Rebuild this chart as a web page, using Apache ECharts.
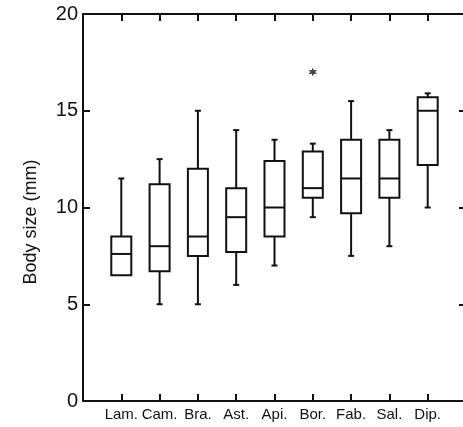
<!DOCTYPE html>
<html>
<head>
<meta charset="utf-8">
<script src="https://cdn.jsdelivr.net/npm/echarts@6/dist/echarts.min.js"></script>
<style>
html,body{margin:0;padding:0;background:#fff;overflow:hidden;}
#chart{width:469px;height:427px;}
</style>
</head>
<body>
<div id="chart"></div>
<script>
// Taxa (with blank padding slots at both ends of the axis)
const categories = ['', 'Lam.', 'Cam.', 'Bra.', 'Ast.', 'Api.', 'Bor.', 'Fab.', 'Sal.', 'Dip.', ''];
const boxCategories = ['Lam.', 'Cam.', 'Bra.', 'Ast.', 'Api.', 'Bor.', 'Fab.', 'Sal.', 'Dip.'];
const mins    = [6.5, 5.0, 5.0, 6.0, 7.0, 9.5, 7.5, 8.0, 10.0];
const q1s     = [6.5, 6.7, 7.5, 7.7, 8.5, 10.5, 9.7, 10.5, 12.2];
const medians = [7.6, 8.0, 8.5, 9.5, 10.0, 11.0, 11.5, 11.5, 15.0];
const q3s     = [8.5, 11.2, 12.0, 11.0, 12.4, 12.9, 13.5, 13.5, 15.7];
const maxs    = [11.5, 12.5, 15.0, 14.0, 13.5, 13.3, 15.5, 14.0, 15.9];
const outlierCats = ['Bor.'];
const outlierVals = [17.0];
const yTicks = [0, 5, 10, 15, 20];

const boxData = boxCategories.map((c, i) => [categories.indexOf(c), mins[i], q1s[i], medians[i], q3s[i], maxs[i]]);
const outData = outlierCats.map((c, i) => [categories.indexOf(c), outlierVals[i]]);

const ink = '#111';
const chart = echarts.init(document.getElementById('chart'));

function renderBox(params, api) {
  const x = api.value(0);
  const pMin = api.coord([x, api.value(1)]);
  const pQ1 = api.coord([x, api.value(2)]);
  const pMed = api.coord([x, api.value(3)]);
  const pQ3 = api.coord([x, api.value(4)]);
  const pMax = api.coord([x, api.value(5)]);
  const cx = pMed[0];
  const hw = 10, cap = 3;
  const st = {stroke: ink, lineWidth: 2, fill: null};
  const children = [
    {type: 'rect', shape: {x: cx - hw, y: pQ3[1], width: hw * 2, height: pQ1[1] - pQ3[1]}, style: {stroke: ink, lineWidth: 2, fill: '#fff'}},
    {type: 'line', shape: {x1: cx - hw, y1: pMed[1], x2: cx + hw, y2: pMed[1]}, style: st}
  ];
  if (pMax[1] < pQ3[1]) {
    children.push({type: 'line', shape: {x1: cx, y1: pQ3[1], x2: cx, y2: pMax[1]}, style: st});
    children.push({type: 'line', shape: {x1: cx - cap, y1: pMax[1], x2: cx + cap, y2: pMax[1]}, style: st});
  }
  if (pMin[1] > pQ1[1]) {
    children.push({type: 'line', shape: {x1: cx, y1: pQ1[1], x2: cx, y2: pMin[1]}, style: st});
    children.push({type: 'line', shape: {x1: cx - cap, y1: pMin[1], x2: cx + cap, y2: pMin[1]}, style: st});
  }
  return {type: 'group', children: children};
}

const xBase = {
  type: 'category',
  data: categories,
  boundaryGap: false,
  axisLine: {show: true, onZero: false, lineStyle: {color: ink, width: 2}},
  axisTick: {show: true, inside: true, length: 7, interval: 0, lineStyle: {color: ink, width: 2}},
  splitLine: {show: false}
};
const yBase = {
  type: 'value', min: 0, max: 20, interval: 5,
  axisLine: {show: true, onZero: false, lineStyle: {color: ink, width: 2}},
  axisTick: {show: true, inside: true, length: 7, lineStyle: {color: ink, width: 2}},
  splitLine: {show: false}
};

chart.setOption({
  animation: false,
  backgroundColor: '#fff',
  grid: {left: 83, right: 1, top: 14, bottom: 26, containLabel: false},
  xAxis: [
    Object.assign({}, xBase, {position: 'bottom',
      axisLabel: {show: true, interval: 0, margin: 6, color: ink, fontSize: 15, fontFamily: 'Liberation Sans, Arial, sans-serif'}}),
    Object.assign({}, xBase, {position: 'top', axisLabel: {show: false}})
  ],
  yAxis: [
    Object.assign({}, yBase, {position: 'left',
      axisLabel: {show: true, margin: 5, color: ink, fontSize: 20, fontFamily: 'Liberation Sans, Arial, sans-serif',
        formatter: v => yTicks.indexOf(v) >= 0 ? String(v) : ''}}),
    Object.assign({}, yBase, {position: 'right', axisLabel: {show: false}})
  ],
  graphic: [{
    type: 'text', x: 31, y: 222, rotation: Math.PI / 2,
    style: {text: 'Body size (mm)', fill: ink, font: '18px "Liberation Sans", Arial, sans-serif', align: 'center', verticalAlign: 'middle'}
  }],
  series: [
    {type: 'custom', renderItem: renderBox, data: boxData, encode: {x: 0, y: [1, 2, 3, 4, 5]}, clip: false},
    {type: 'scatter', data: outData, symbol: 'path://M50,0L61,31L93.3,25L72,50L93.3,75L61,69L50,100L39,69L6.7,75L28,50L6.7,25L39,31Z',
      symbolSize: 9, itemStyle: {color: ink}}
  ]
});
</script>
</body>
</html>
